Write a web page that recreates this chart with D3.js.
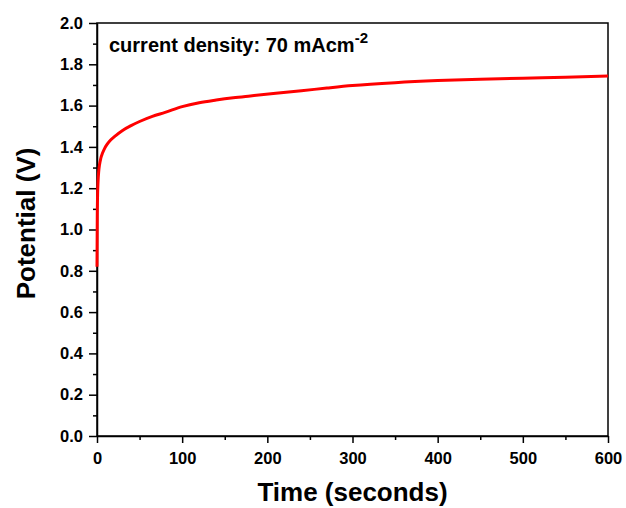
<!DOCTYPE html>
<html>
<head>
<meta charset="utf-8">
<script src="https://cdn.jsdelivr.net/npm/d3@7/dist/d3.min.js"></script>
<style>
  html, body { margin: 0; padding: 0; background: #fff; }
  svg { display: block; }
  text { font-family: "Liberation Sans", Arial, Helvetica, sans-serif; font-weight: bold; fill: #000; }
</style>
</head>
<body>
<svg id="chart" width="626" height="508"></svg>
<script>
// ---- data ----
const timeSeconds = [0, 0.3, 0.7, 1.2, 2, 3, 4.5, 6.5, 9, 12, 16, 22, 30, 40, 50, 65, 80, 100, 120, 140, 160, 180, 210, 240, 270, 300, 350, 400, 450, 500, 550, 600];
const potentialV  = [0.82, 1.05, 1.17, 1.23, 1.28, 1.315, 1.345, 1.37, 1.393, 1.413, 1.433, 1.455, 1.48, 1.503, 1.523, 1.548, 1.567, 1.595, 1.614, 1.627, 1.638, 1.647, 1.66, 1.672, 1.685, 1.697, 1.711, 1.721, 1.728, 1.733, 1.737, 1.743];
const xTicks = [0, 100, 200, 300, 400, 500, 600];
const xMinorTicks = [50, 150, 250, 350, 450, 550];
const yTicks = [0.0, 0.2, 0.4, 0.6, 0.8, 1.0, 1.2, 1.4, 1.6, 1.8, 2.0];
const yMinorTicks = [0.1, 0.3, 0.5, 0.7, 0.9, 1.1, 1.3, 1.5, 1.7, 1.9];
const xTitle = "Time (seconds)";
const yTitle = "Potential (V)";
const annotation = "current density: 70 mAcm";
const annotationSup = "-2";

// ---- layout ----
const svg = d3.select("#chart");
const L = 97, R = 608, T = 23, B = 436;
const x = d3.scaleLinear().domain([0, 600]).range([L, R]);
const y = d3.scaleLinear().domain([0, 2]).range([B, T]);

// frame (top & right)
svg.append("rect")
  .attr("x", L).attr("y", T).attr("width", R - L).attr("height", B - T)
  .attr("fill", "none").attr("stroke", "#000").attr("stroke-width", 1.5);

// minor ticks
svg.append("g").attr("transform", `translate(0,${B})`)
  .call(d3.axisBottom(x).tickValues(xMinorTicks).tickSize(4).tickFormat(""))
  .call(g => g.select(".domain").remove())
  .call(g => g.selectAll("line").attr("stroke-width", 1.5));
svg.append("g").attr("transform", `translate(${L},0)`)
  .call(d3.axisLeft(y).tickValues(yMinorTicks).tickSize(4).tickFormat(""))
  .call(g => g.select(".domain").remove())
  .call(g => g.selectAll("line").attr("stroke-width", 1.5));

// major axes
const xAxis = svg.append("g").attr("transform", `translate(0,${B})`)
  .call(d3.axisBottom(x).tickValues(xTicks).tickSize(7).tickPadding(9).tickSizeOuter(0).tickFormat(d3.format("d")));
const yAxis = svg.append("g").attr("transform", `translate(${L},0)`)
  .call(d3.axisLeft(y).tickValues(yTicks).tickSize(8).tickPadding(6).tickSizeOuter(0).tickFormat(d3.format(".1f")));
[xAxis, yAxis].forEach(g => {
  g.selectAll("text").attr("font-size", 16.5).attr("font-family", null).style("fill", "#000");
  g.selectAll("line").attr("stroke-width", 1.5).attr("stroke", "#000");
  g.select(".domain").attr("stroke-width", 1.5).attr("stroke", "#000");
});

// data line
const pts = timeSeconds.map((t, i) => [t, potentialV[i]]);
svg.append("path")
  .datum(pts)
  .attr("fill", "none")
  .attr("stroke", "#ff0000")
  .attr("stroke-width", 3)
  .attr("stroke-linejoin", "round")
  .attr("d", d3.line().x(d => x(d[0])).y(d => y(d[1])).curve(d3.curveMonotoneX));

// titles
svg.append("text")
  .attr("x", (L + R) / 2).attr("y", 501)
  .attr("text-anchor", "middle").attr("font-size", 26)
  .text(xTitle);
svg.append("text")
  .attr("transform", `translate(35,${(T + B) / 2 - 6}) rotate(-90)`)
  .attr("text-anchor", "middle").attr("font-size", 26)
  .text(yTitle);

// annotation
const ann = svg.append("text").attr("x", 109).attr("y", 52).attr("font-size", 20);
ann.append("tspan").text(annotation);
ann.append("tspan").attr("font-size", 15).attr("dy", -9).text(annotationSup);
</script>
</body>
</html>
